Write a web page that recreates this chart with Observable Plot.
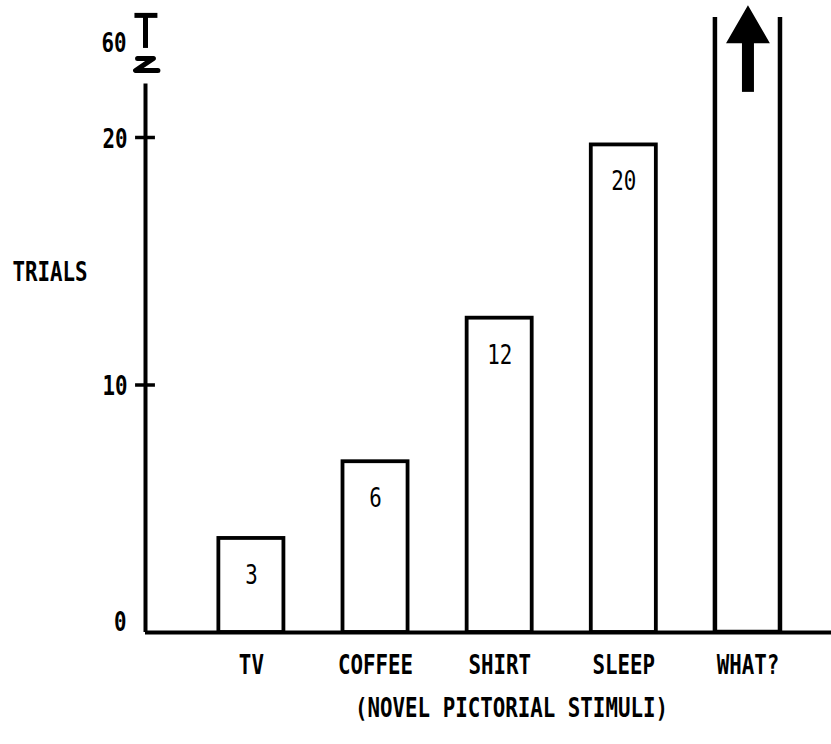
<!DOCTYPE html>
<html>
<head>
<meta charset="utf-8">
<script src="https://cdn.jsdelivr.net/npm/d3@7"></script>
<script src="https://cdn.jsdelivr.net/npm/@observablehq/plot@0.6"></script>
<style>
  html, body { margin: 0; padding: 0; background: #fff; }
  #chart svg { display: block; }
</style>
</head>
<body>
<div id="chart"></div>
<script>
// ---- data ----
const categories = ["TV", "COFFEE", "SHIRT", "SLEEP", "WHAT?"];
const barHeights = [3.8, 6.9, 12.7, 19.7, 100];   // drawn bar tops; WHAT? runs off the chart
const barLabels = ["3", "6", "12", "20", ""];
const yTicks = [0, 10, 20];
const yBreakLabel = 60;
const yTitle = "TRIALS";
const xTitle = "(NOVEL PICTORIAL STIMULI)";

const bars = categories.map((c, i) => ({cat: c, i, h: barHeights[i], label: barLabels[i]}));
const closedBars = bars.filter(d => d.label !== "");
const openBars = bars.filter(d => d.label === "");

const FONT = "'DejaVu Sans Mono', 'Liberation Mono', monospace";
const axisX = -0.853;      // x position of the y axis (left edge of the frame)
const half = 0.262;        // half bar width in category units
const FS = 20.8;

const bold = {fontSize: FS, fontWeight: "bold", fill: "black"};

const chart = Plot.plot({
  width: 831,
  height: 744,
  marginLeft: 145,
  marginRight: 0,
  marginTop: 17,
  marginBottom: 112,
  style: {fontFamily: FONT, background: "#fff", overflow: "visible"},
  x: {type: "linear", domain: [axisX, 4.673], axis: null},
  y: {type: "linear", domain: [0, 20, 60, 75], range: [632, 137, 42, 6], axis: null},
  marks: [
    // bars with labelled values
    Plot.rectY(closedBars, {x1: d => d.i - half, x2: d => d.i + half, y1: 0, y2: "h",
      fill: "white", stroke: "black", strokeWidth: 3.8}),
    // open-topped bar running off the chart
    Plot.rectY(openBars, {x1: d => d.i - half, x2: d => d.i + half, y1: 0, y2: "h",
      fill: "none", stroke: "black", strokeWidth: 4.5, clip: true}),
    // arrow in the open bar
    Plot.ruleX(openBars, {x: "i", y1: 39, y2: 62, stroke: "black", strokeWidth: 12}),
    Plot.dot(openBars, {x: "i", y: 65, symbol: "triangle", r: 15, fill: "black", stroke: "black", strokeWidth: 2}),
    // baseline
    Plot.ruleY([0], {stroke: "black", strokeWidth: 4}),
    // y axis line up to the break
    Plot.ruleX([axisX], {y1: 0, y2: 42.5, stroke: "black", strokeWidth: 4}),
    // ticks crossing the axis
    Plot.ruleY(yTicks.filter(t => t > 0), {x1: axisX - 0.08, x2: axisX + 0.08, stroke: "black", strokeWidth: 3.5}),
    // break mark "Z"
    Plot.line([[axisX - 0.064, 53.3], [axisX + 0.064, 53.3], [axisX - 0.08, 48.2], [axisX + 0.1, 48.2]],
      {x: d => d[0], y: d => d[1], stroke: "black", strokeWidth: 5, strokeLinejoin: "round"}),
    // "T" at the top of the axis
    Plot.ruleX([axisX], {y1: 57.5, y2: 71.8, stroke: "black", strokeWidth: 5}),
    Plot.ruleY([71.3], {x1: axisX - 0.085, x2: axisX + 0.1, stroke: "black", strokeWidth: 5}),
    // tick labels
    Plot.text(yTicks.filter(t => t > 0), {x: axisX, y: d => d, text: d => String(d), dx: -18, dy: 2,
      textAnchor: "end", ...bold}),
    Plot.text(yTicks.filter(t => t === 0), {x: axisX, y: d => d, text: d => String(d), dx: -19, dy: -10,
      textAnchor: "end", ...bold}),
    Plot.text([yBreakLabel], {x: axisX, y: d => d, text: d => String(d), dx: -19, dy: 1,
      textAnchor: "end", ...bold}),
    // value labels inside bars
    Plot.text(closedBars, {x: "i", y: "h", text: "label", dy: 37, fontSize: FS, fontWeight: "normal", fill: "black"}),
    // category labels
    Plot.text(bars, {x: "i", y: 0, text: "cat", dy: 33, ...bold}),
    // axis titles
    Plot.text([yTitle], {frameAnchor: "left", dx: -133, dy: -52, textAnchor: "start", ...bold}),
    Plot.text([xTitle], {frameAnchor: "bottom", dx: 23, dy: 84, ...bold})
  ]
});

// stretch the glyphs vertically to match the tall condensed lettering
d3.select(chart).selectAll("text").each(function() {
  const t = this.getAttribute("transform") || "";
  this.setAttribute("transform", t + " scale(1,1.27)");
});

document.getElementById("chart").appendChild(chart);
</script>
</body>
</html>
